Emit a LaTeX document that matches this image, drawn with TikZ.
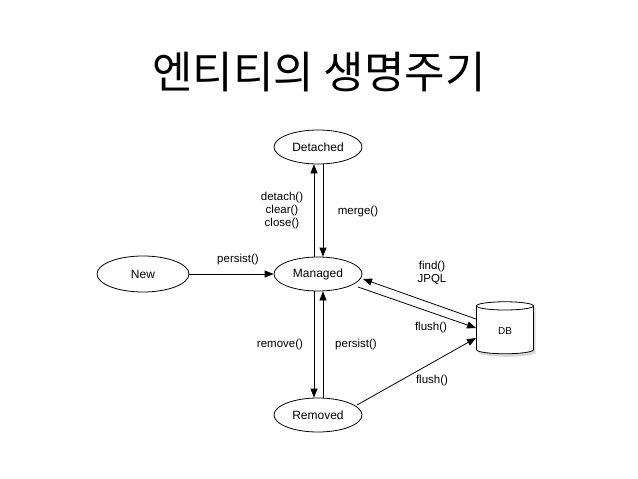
\documentclass[tikz,border=0pt]{standalone}
\usepackage{fontspec}
\setmainfont{Liberation Sans}
\newfontfamily\kr{Noto Sans CJK KR}
\usetikzlibrary{shapes.geometric,shadows,arrows.meta}
\begin{document}
\begin{tikzpicture}[x=1pt,y=-1pt,
  st/.style={draw,ellipse,minimum width=88pt,minimum height=34pt,font=\fontsize{12}{12}\selectfont,line width=0.8pt},
  ar/.style={-{Triangle[length=9pt,width=7pt]},line width=0.8pt},
  lb/.style={font=\fontsize{11.5}{13}\selectfont,align=center}]
\useasboundingbox (0,0) rectangle (638,479);
\node[font=\kr\fontsize{44}{44}\selectfont] (title) at (319,72) {엔티티의 생명주기};
\node[st] (det) at (318,147) {Detached};
\node[st] (man) at (318,274) {Managed};
\node[st,minimum width=92pt,minimum height=36pt] (new) at (143,274) {New};
\node[st] (rem) at (318,415) {Removed};
\node[draw,cylinder,shape border rotate=90,aspect=0.4,minimum width=57pt,minimum height=52pt,fill=white,line width=0.8pt,
  drop shadow={shadow xshift=2pt,shadow yshift=-3pt,opacity=0.3},font=\fontsize{10}{10}\selectfont] (db) at (505,331) {DB};
\draw[ar] (man.north-|314,0) -- (det.south-|314,0);
\draw[ar] (det.south-|323,0) -- (man.north-|323,0);
\draw[ar] (man.south-|314,0) -- (rem.north-|314,0);
\draw[ar] (rem.north-|323,0) -- (man.south-|323,0);
\draw[ar] (new) -- (man);
\coordinate (d1) at (476,319);
\coordinate (d2) at (476,328);
\coordinate (d3) at (476,338);
\draw[ar] (d1) -- (363,279) coordinate (m1);
\draw[ar] (358,287) coordinate (m2) -- (d2);
\draw[ar] (357,405) coordinate (r1) -- (d3);
\node[lb] (l1) at (282,211) {detach()\\clear()\\close()};
\node[lb] (l2) at (358,212) {merge()};
\node[lb] (l3) at (238,260) {persist()};
\node[lb] (l4) at (432,273) {find()\\JPQL};
\node[lb] (l5) at (431,328) {flush()};
\node[lb] (l6) at (280,345) {remove()};
\node[lb] (l7) at (356,345) {persist()};
\node[lb] (l8) at (432,381) {flush()};
\end{tikzpicture}
\end{document}
